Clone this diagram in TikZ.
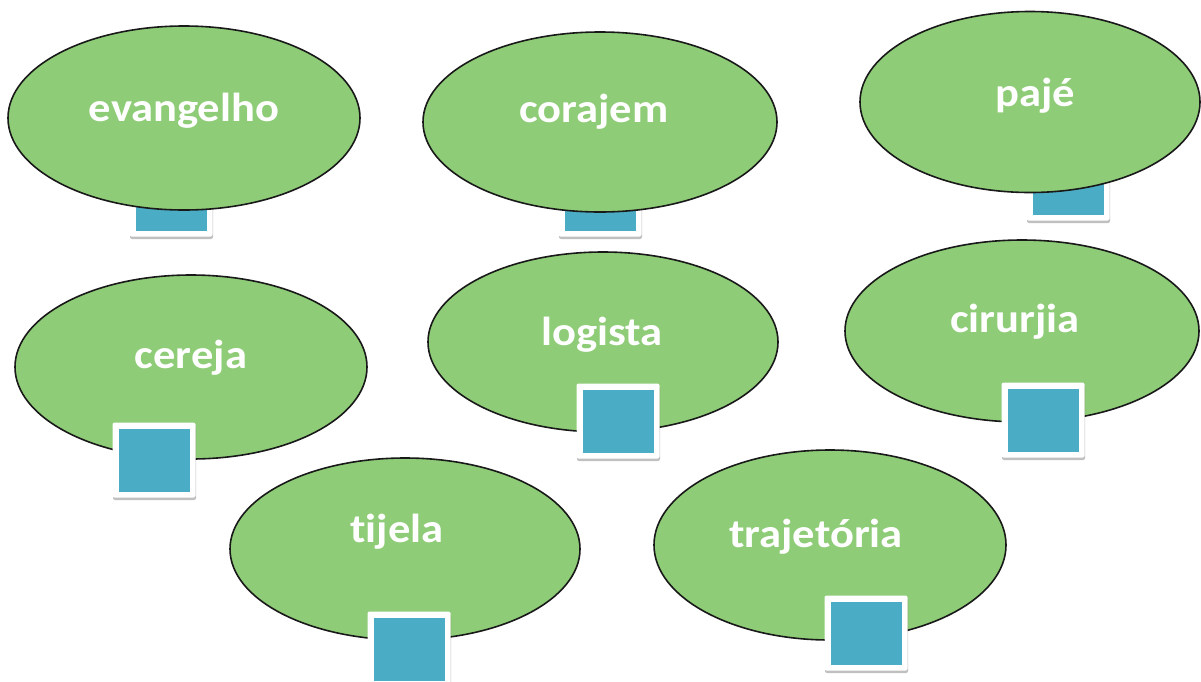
\documentclass[tikz,border=0pt]{standalone}
\usepackage{fontspec}
\newfontfamily\lblfont[FakeStretch=1.1,Ligatures=NoCommon]{Carlito}
\usetikzlibrary{shapes.geometric,shadows}
\definecolor{egreen}{RGB}{142,204,119}
\definecolor{sqblue}{RGB}{75,172,198}
\tikzset{
  oval/.style={ellipse, draw=black!90, line width=1.6pt, fill=egreen, inner sep=0pt},
  lbl/.style={anchor=base, text=white, font=\lblfont\bfseries\fontsize{40.5}{44}\selectfont, inner sep=0pt},
  sqframe/.style={rectangle, fill=white, rounded corners=2pt, minimum width=83pt, minimum height=75pt, inner sep=0pt,
    drop shadow={shadow xshift=0.5pt, shadow yshift=-2.5pt, opacity=0.35, fill=black!70}},
  sqcore/.style={rectangle, fill=sqblue, minimum width=71pt, minimum height=63pt, inner sep=0pt}
}
\begin{document}
\begin{tikzpicture}[x=1pt,y=-1pt]
\useasboundingbox[fill=white] (0,0) rectangle (1201,681);
% top row: squares behind ellipses
\node[sqframe] (s1) at (171,199) {};
\node[sqcore] (b1) at (s1.center) {};
\node[sqframe] (s2) at (600,199) {};
\node[sqcore] (b2) at (s2.center) {};
\node[sqframe] (s3) at (1068,183) {};
\node[sqcore] (b3) at (s3.center) {};
\node[oval, minimum width=352pt, minimum height=184pt] (e1) at (184,118) {};
\node[lbl] (t1) at (184,121) {evangelho};
\node[oval, minimum width=354pt, minimum height=180pt] (e2) at (600,122) {};
\node[lbl] (t2) at (594,122) {corajem};
\node[oval, minimum width=340pt, minimum height=181pt] (e3) at (1030,102) {};
\node[lbl] (t3) at (1035,106) {pajé};
% middle row
\node[oval, minimum width=352pt, minimum height=184pt] (e4) at (191,367) {};
\node[lbl] (t4) at (191,368) {cereja};
\node[sqframe] (s4) at (154,460) {};
\node[sqcore] (b4) at (s4.center) {};
\node[oval, minimum width=350pt, minimum height=180pt] (e5) at (603,342) {};
\node[lbl] (t5) at (602,345) {logista};
\node[sqframe] (s5) at (618,421) {};
\node[sqcore] (b5) at (s5.center) {};
\node[oval, minimum width=354pt, minimum height=182pt] (e6) at (1022,331) {};
\node[lbl] (t6) at (1015,332) {cirurjia};
\node[sqframe] (s6) at (1043,420) {};
\node[sqcore] (b6) at (s6.center) {};
% bottom row
\node[oval, minimum width=350pt, minimum height=182pt] (e7) at (405,549) {};
\node[lbl] (t7) at (397,542) {tijela};
\node[sqframe] (s7) at (409,649) {};
\node[sqcore] (b7) at (s7.center) {};
\node[oval, minimum width=352pt, minimum height=190pt] (e8) at (830,545) {};
\node[lbl] (t8) at (816,547) {trajetória};
\node[sqframe] (s8) at (866,633) {};
\node[sqcore] (b8) at (s8.center) {};
\end{tikzpicture}
\end{document}
